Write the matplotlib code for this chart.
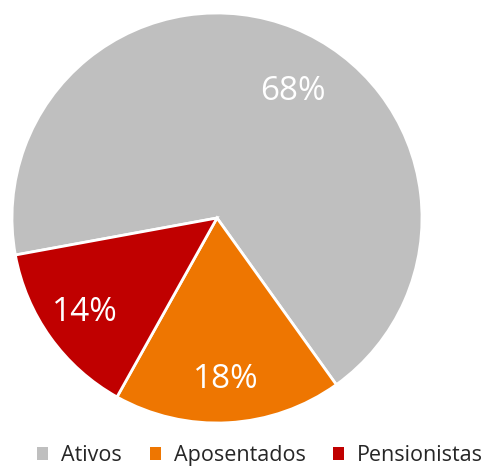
import numpy as np
import matplotlib.pyplot as plt
from matplotlib.patches import Patch

categories = ["Ativos", "Aposentados", "Pensionistas"]
values = [68, 18, 14]
colors = ["#BFBFBF", "#EE7601", "#C00000"]

plt.rcParams['font.family'] = ['Open Sans', 'DejaVu Sans']

fig = plt.figure(figsize=(4.91, 4.66), dpi=100)
ax = fig.add_axes([12/491, 43/466, 410/491, 410/466])

wedges, texts, autotexts = ax.pie(
    values, colors=colors, startangle=190.4, counterclock=False,
    autopct=lambda p: "%d%%" % round(p), pctdistance=0.79,
    wedgeprops=dict(edgecolor="white", linewidth=2),
    textprops=dict(color="white", fontsize=24))
# the big label sits a bit off the bisector, like in the original
a = np.deg2rad(59)
autotexts[0].set_position((0.72 * np.cos(a), 0.72 * np.sin(a)))

ax.set_xlim(-1, 1)
ax.set_ylim(-1, 1)
ax.set_aspect("equal")

handles = [Patch(facecolor=c, edgecolor="none") for c in colors]
fig.legend(handles, categories, loc="lower center", bbox_to_anchor=(0.53, -0.042),
           ncol=3, frameon=False, fontsize=15.5, handlelength=0.5, handleheight=0.5,
           columnspacing=1.3, handletextpad=0.6, labelcolor="#262626")

fig.savefig("out.png", dpi=100)
